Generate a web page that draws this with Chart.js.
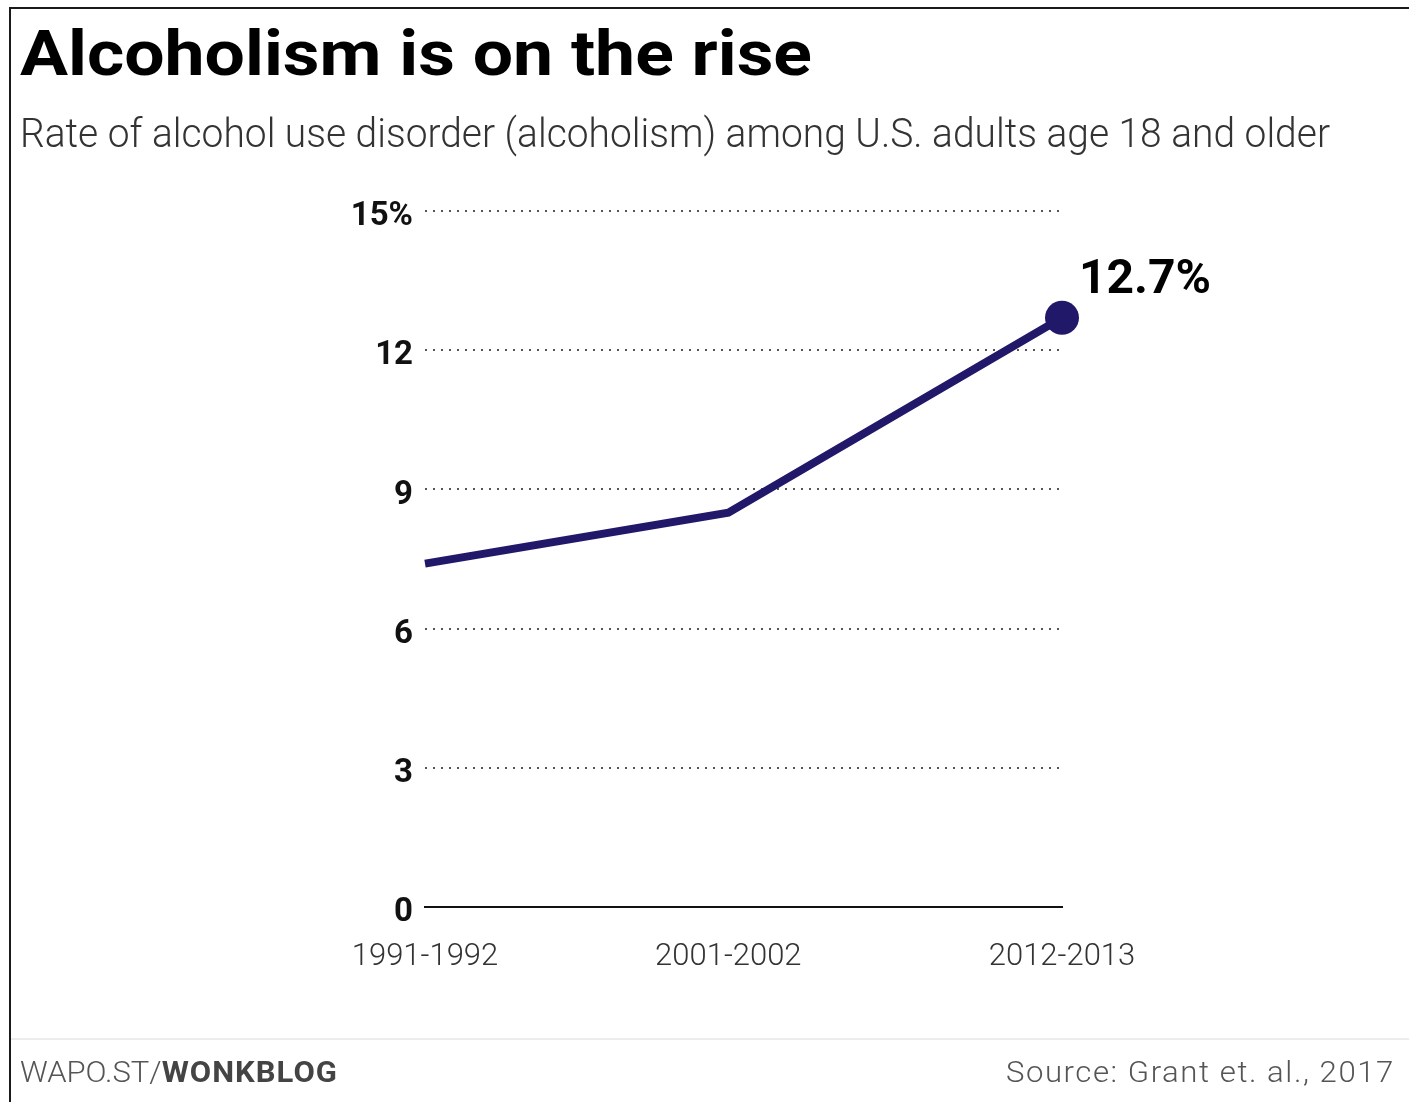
<!DOCTYPE html>
<html>
<head>
<meta charset="utf-8">
<script src="https://cdn.jsdelivr.net/npm/chart.js@4.4.0/dist/chart.umd.min.js"></script>
<style>
  html, body { margin: 0; padding: 0; background: #fff; }
  #wrap { position: relative; width: 1409px; height: 1102px; overflow: hidden; background: #fff; }
  #chart { position: absolute; left: 0; top: 0; }
  .frameTop { position: absolute; left: 9px; top: 7px; width: 1400px; height: 2px; background: #1a1a1a; }
  .frameLeft { position: absolute; left: 9px; top: 7px; width: 2px; height: 1095px; background: #1a1a1a; }
  .footLine { position: absolute; left: 11px; top: 1038px; width: 1398px; height: 2px; background: #ececec; }
  .txt { position: absolute; white-space: nowrap; line-height: 1; }
  .fit { display: inline-block; transform-origin: left top; }
  #title { left: 20px; top: 17px; font: 700 63px Roboto, sans-serif; color: #000; }
  #subtitle { left: 20px; top: 109px; font: 300 41px Roboto, sans-serif; color: #333; }
  #credit { left: 20px; top: 1054px; font: 300 30px Roboto, sans-serif; color: #555; }
  #credit b { font-weight: 700; color: #444; letter-spacing: 1px; }
  #source { right: 14px; top: 1054px; font: 300 30px Roboto, sans-serif; color: #555; letter-spacing: 1.5px; }
  #source .fit { transform-origin: right top; }
</style>
</head>
<body>
<div id="wrap">
  <canvas id="chart" width="1409" height="1102"></canvas>
  <div class="frameTop"></div>
  <div class="frameLeft"></div>
  <div class="footLine"></div>
  <div class="txt" id="title"><span class="fit" data-w="792">Alcoholism is on the rise</span></div>
  <div class="txt" id="subtitle"><span class="fit" data-w="1310">Rate of alcohol use disorder (alcoholism) among U.S. adults age 18 and older</span></div>
  <div class="txt" id="credit"><span class="fit" data-w="318">WAPO.ST/<b>WONKBLOG</b></span></div>
  <div class="txt" id="source"><span class="fit" data-w="389">Source: Grant et. al., 2017</span></div>
</div>
<script>
// survey periods, placed on a year axis by their midpoint
const periodLabels = ["1991-1992", "2001-2002", "2012-2013"]
const periodYears = [1991.5, 2001.5, 2012.5]
const rates = [7.4, 8.5, 12.7]
const yTicks = [0, 3, 6, 9, 12, 15]

const lineColor = "#21186a"

// squeeze the header/footer text to the widths in the original
document.querySelectorAll(".fit").forEach(el => {
  const w = el.getBoundingClientRect().width
  el.style.transform = "scaleX(" + (Number(el.dataset.w) / w) + ")"
})

const endLabel = {
  id: "endLabel",
  afterDatasetsDraw(chart) {
    const meta = chart.getDatasetMeta(0)
    const last = meta.data[meta.data.length - 1]
    const ctx = chart.ctx
    ctx.save()
    ctx.font = "bold 48px Roboto, sans-serif"
    ctx.fillStyle = "#000"
    ctx.textBaseline = "alphabetic"
    ctx.textAlign = "left"
    ctx.fillText(rates[rates.length - 1] + "%", last.x + 17, last.y - 25)
    ctx.restore()
  }
}

const config = {
  type: "line",
  data: {
    datasets: [
      {
        data: periodYears.map((x, i) => ({ x: x, y: rates[i] })),
        borderColor: lineColor,
        backgroundColor: lineColor,
        borderWidth: 8,
        tension: 0,
        clip: false,
        pointRadius: ctx => ctx.dataIndex === rates.length - 1 ? 17 : 0,
        pointHoverRadius: ctx => ctx.dataIndex === rates.length - 1 ? 17 : 0,
        pointBorderWidth: 0,
        pointBackgroundColor: lineColor
      }
    ]
  },
  options: {
    responsive: false,
    animation: false,
    devicePixelRatio: 1,
    layout: {
      padding: { left: 0, right: 347, top: 211, bottom: 125 }
    },
    scales: {
      x: {
        type: "linear",
        min: periodYears[0],
        max: periodYears[periodYears.length - 1],
        afterFit: s => { s.height = 70 },
        afterBuildTicks: s => { s.ticks = periodYears.map(v => ({ value: v })) },
        grid: { display: false, drawTicks: false },
        border: { display: true, color: "#111", width: 2 },
        ticks: {
          padding: 32,
          maxRotation: 0,
          autoSkip: false,
          color: "#333",
          font: { family: "Roboto", size: 31, weight: "300" },
          callback: (v, i) => periodLabels[i]
        }
      },
      y: {
        min: 0,
        max: 15,
        afterFit: s => { s.width = 425 },
        afterBuildTicks: s => { s.ticks = yTicks.map(v => ({ value: v })) },
        grid: {
          drawTicks: false,
          lineWidth: 2,
          color: ctx => ctx.tick && ctx.tick.value === 0 ? "rgba(0,0,0,0)" : "#555"
        },
        border: { display: false, dash: [2, 6] },
        ticks: {
          padding: 12,
          labelOffset: 6,
          color: "#111",
          font: { family: "Roboto", size: 33, weight: "bold" },
          callback: v => v === 15 ? v + "%" : v
        }
      }
    },
    plugins: {
      legend: { display: false },
      tooltip: { enabled: false }
    }
  },
  plugins: [endLabel]
}

new Chart(document.getElementById("chart"), config)
</script>
</body>
</html>
